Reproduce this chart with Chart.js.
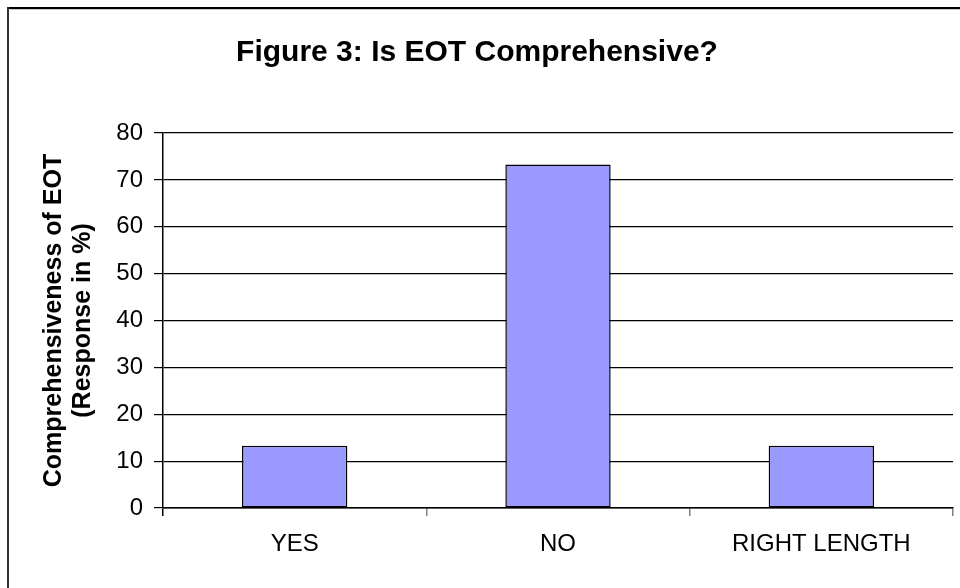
<!DOCTYPE html>
<html>
<head>
<meta charset="utf-8">
<script src="https://cdn.jsdelivr.net/npm/chart.js@4/dist/chart.umd.min.js"></script>
<style>
  html, body { margin: 0; padding: 0; background: #fff; overflow: hidden; }
  #wrap { position: relative; width: 960px; height: 588px; }
</style>
</head>
<body>
<div id="wrap"><canvas id="c"></canvas></div>
<script>
const categories = ['YES', 'NO', 'RIGHT LENGTH'];
const responsePct = [13.3, 73.3, 13.3];
const yTicks = [0, 10, 20, 30, 40, 50, 60, 70, 80];
const chartTitle = 'Figure 3: Is EOT Comprehensive?';
const yAxisTitle = ['Comprehensiveness of EOT', '(Response in %)'];

const FONT = "'Liberation Sans', Arial, sans-serif";

const framePlugin = {
  id: 'frame',
  beforeDraw(chart) {
    const ctx = chart.ctx;
    ctx.save();
    ctx.fillStyle = '#ffffff';
    ctx.fillRect(0, 0, chart.width, chart.height);
    // outer frame (top & left visible)
    ctx.fillStyle = '#000000';
    ctx.fillRect(8, 7, chart.width - 8, 2);
    ctx.fillStyle = '#c8c8c8';
    ctx.fillRect(10, 9, chart.width - 10, 1);
    ctx.fillStyle = '#333333';
    ctx.fillRect(7, 7, 2, chart.height - 7);
    ctx.restore();
  },
  afterDraw(chart) {
    const ctx = chart.ctx;
    ctx.save();
    ctx.fillStyle = '#000';
    ctx.font = "bold 30px " + FONT;
    ctx.textAlign = 'center';
    ctx.textBaseline = 'alphabetic';
    ctx.fillText(chartTitle, 477, 61);
    ctx.restore();
  }
};

new Chart(document.getElementById('c'), {
  type: 'bar',
  data: {
    labels: categories,
    datasets: [{
      data: responsePct,
      backgroundColor: '#9999FF',
      borderColor: '#000000',
      borderWidth: 1.5,
      borderSkipped: false,
      barPercentage: 0.4,
      categoryPercentage: 1.0
    }]
  },
  options: {
    responsive: true,
    maintainAspectRatio: false,
    animation: false,
    devicePixelRatio: 1,
    layout: { padding: { left: 0, right: 7, top: 133, bottom: 0 } },
    plugins: {
      legend: { display: false },
      title: { display: false },
      tooltip: { enabled: false }
    },
    scales: {
      x: {
        offset: true,
        afterFit(scale) { scale.height = 80; },
        grid: {
          offset: true,
          color: (c) => c.index === 3 ? '#808080' : 'rgba(0,0,0,0)',
          tickColor: (c) => c.index === 0 ? '#000000' : '#808080',
          tickLength: 8,
          lineWidth: 1.5,
          drawTicks: true
        },
        border: { display: true, color: '#000000', width: 1.5 },
        ticks: {
          color: '#000',
          font: { family: FONT, size: 24 },
          padding: 14,
          maxRotation: 0,
          autoSkip: false
        }
      },
      y: {
        min: 0,
        max: 80,
        afterFit(scale) { scale.width = 163; },
        afterBuildTicks(scale) { scale.ticks = yTicks.map(v => ({ value: v })); },
        grid: {
          color: '#000000',
          tickColor: '#000000',
          tickLength: 9,
          lineWidth: 1.2
        },
        border: { display: true, color: '#000000', width: 1.5 },
        ticks: {
          color: '#000',
          font: { family: FONT, size: 24 },
          padding: 11
        },
        title: {
          display: true,
          text: yAxisTitle,
          color: '#000',
          font: { family: FONT, size: 25, weight: 'bold', lineHeight: 1.15 },
          padding: { top: 40, bottom: 0 }
        }
      }
    }
  },
  plugins: [framePlugin]
});
</script>
</body>
</html>
